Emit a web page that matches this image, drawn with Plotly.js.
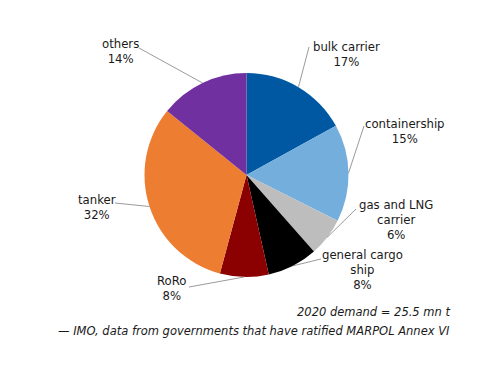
<!DOCTYPE html>
<html><head><meta charset="utf-8">
<script src="https://cdn.plot.ly/plotly-3.0.1.min.js"></script>
<style>html,body{margin:0;padding:0;background:#fff}#chart{width:500px;height:386px}</style>
</head><body><div id="chart"></div>
<script>
// Data
const categories = ["bulk carrier", "containership", "gas and LNG carrier", "general cargo ship", "RoRo", "tanker", "others"];
const labelTexts = ["bulk carrier", "containership", "gas and LNG<br>carrier", "general cargo<br>ship", "RoRo", "tanker", "others"];
const shares = [17.0, 15.4, 6.1, 8.0, 7.7, 31.6, 14.2];
const colors = ["#0058a2", "#73aedd", "#bdbdbd", "#000000", "#8b0000", "#ed7d31", "#7030a0"];
const noteLines = ["2020 demand = 25.5 mn t", "— IMO, data from governments that have ratified MARPOL Annex VI"];

// Layout config (pixels)
const W = 500, H = 386;
const cx = 246.5, cy = 175, R = 102;
// label anchor positions (text centre) and leader-line start points
const labelPos = [[346, 54], [405, 131], [396, 220], [362, 270], [172, 288], [97, 207], [120, 51]];
const lineStart = [[309, 47], [364, 126], [356, 209], [321, 259], [189, 287], [115, 203], [139, 48]];

const px = x => x / W, py = y => 1 - y / H;
const total = shares.reduce((a, b) => a + b, 0);
const font = {family: "DejaVu Sans, Verdana, sans-serif", size: 11.7, color: "#1a1a1a"};
const noteFont = {family: "DejaVu Sans, Verdana, sans-serif", size: 11.5, color: "#1a1a1a"};

const shapes = [], annotations = [];
let cum = 0;
shares.forEach((v, i) => {
  const mid = (cum + v / 2) / total * 2 * Math.PI;
  cum += v;
  const ex = cx + R * Math.sin(mid), ey = cy - R * Math.cos(mid);
  const [sx, sy] = lineStart[i];
  shapes.push({type: "line", xref: "paper", yref: "paper", x0: px(sx), y0: py(sy), x1: px(ex), y1: py(ey),
    line: {color: "#808080", width: 0.8}});
  annotations.push({xref: "paper", yref: "paper", x: px(labelPos[i][0]), y: py(labelPos[i][1]),
    xanchor: "center", yanchor: "middle", showarrow: false, align: "center",
    text: labelTexts[i] + "<br>" + Math.round(v) + "%", font: font});
});
annotations.push({xref: "paper", yref: "paper", x: px(452), y: py(312), xanchor: "right", yanchor: "middle",
  showarrow: false, text: "<i>" + noteLines[0] + "</i>", font: noteFont});
annotations.push({xref: "paper", yref: "paper", x: px(452), y: py(331), xanchor: "right", yanchor: "middle",
  showarrow: false, text: "<i>" + noteLines[1] + "</i>", font: noteFont});

const trace = {
  type: "pie", labels: categories, values: shares, sort: false, direction: "clockwise", rotation: 0,
  marker: {colors: colors, line: {width: 0}}, textinfo: "none", hoverinfo: "label+percent",
  domain: {x: [px(cx - R), px(cx + R)], y: [py(cy + R), py(cy - R)]}, showlegend: false
};

Plotly.newPlot("chart", [trace], {
  width: W, height: H, margin: {l: 0, r: 0, t: 0, b: 0}, paper_bgcolor: "#fff",
  showlegend: false, shapes: shapes, annotations: annotations
}, {staticPlot: true});
</script></body></html>
